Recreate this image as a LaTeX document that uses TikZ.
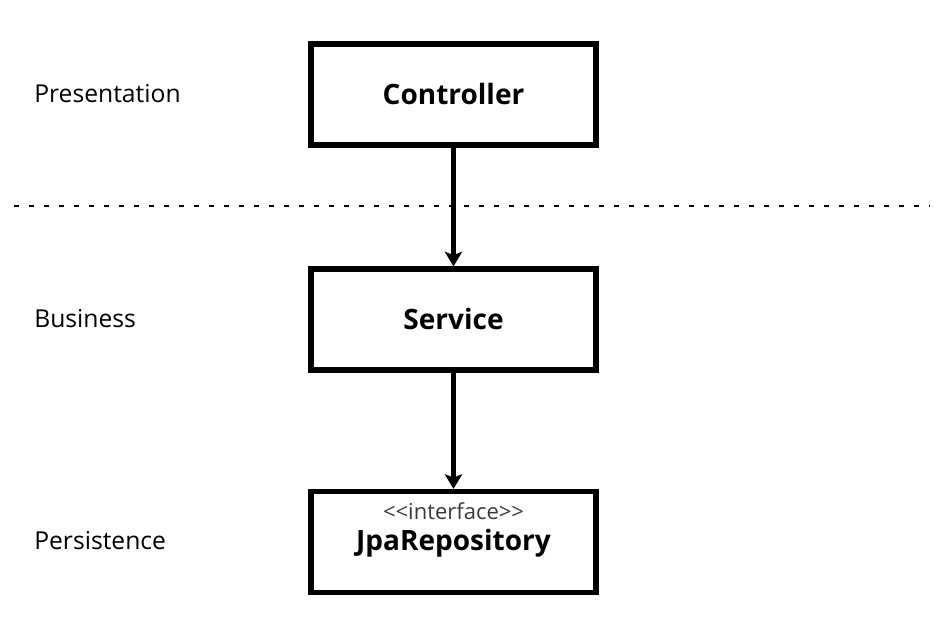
\documentclass[tikz,border=0pt]{standalone}
\usepackage{fontspec}
\setmainfont{Open Sans}
\usepackage{xcolor}
\usepackage{tikz}
\usetikzlibrary{arrows.meta}
\definecolor{ink}{HTML}{000000}
\definecolor{stereo}{HTML}{3A3A3A}
\tikzset{
  layer/.style={draw=ink, line width=3.9pt, minimum width=213.75pt, minimum height=75.75pt, inner sep=0pt},
  flow/.style={draw=ink, line width=3.4pt, -{Stealth[length=11pt,width=13pt,inset=2.5pt]}},
  divider/.style={draw=ink, line width=1.5pt, dash pattern=on 3.75pt off 7.5pt},
  lab/.style={text=ink, font=\fontsize{18.5}{22}\selectfont, anchor=west, inner sep=0pt},
  boxname/.style={text=ink, font=\fontsize{21}{24}\selectfont\bfseries},
  stype/.style={text=stereo, font=\fontsize{16.5}{19}\selectfont},
}

\begin{document}
\begin{tikzpicture}[x=0.75pt, y=0.75pt]
  \useasboundingbox (0,0) rectangle (934,628);
  % layer boxes
  \node[layer] (ctrl) at (453.5,533.5) {};
  \node[layer] (svc) at (453.5,308.5) {};
  \node[layer] (repo) at (453.5,86) {};
  \node[boxname] (ctrlname) at (ctrl.center) {Controller};
  \node[boxname] (svcname) at (svc.center) {Service};
  \node[stype] (repotype) at (453.5,117) {{<}{<}interface{>}{>}};
  \node[boxname] (reponame) at (453.5,85) {JpaRepository};
  % layer names
  \node[lab] (pres) at (34,534) {Presentation};
  \node[lab] (bus) at (34,309) {Business};
  \node[lab] (pers) at (34,87) {Persistence};
  % separator
  \coordinate (sepL) at (14,422);
  \coordinate (sepR) at (930,422);
  \draw[divider] (sepL) -- (sepR);
  % calls
  \draw[flow] (ctrl.south) -- (svc.north);
  \draw[flow] (svc.south) -- (repo.north);
\end{tikzpicture}
\end{document}
